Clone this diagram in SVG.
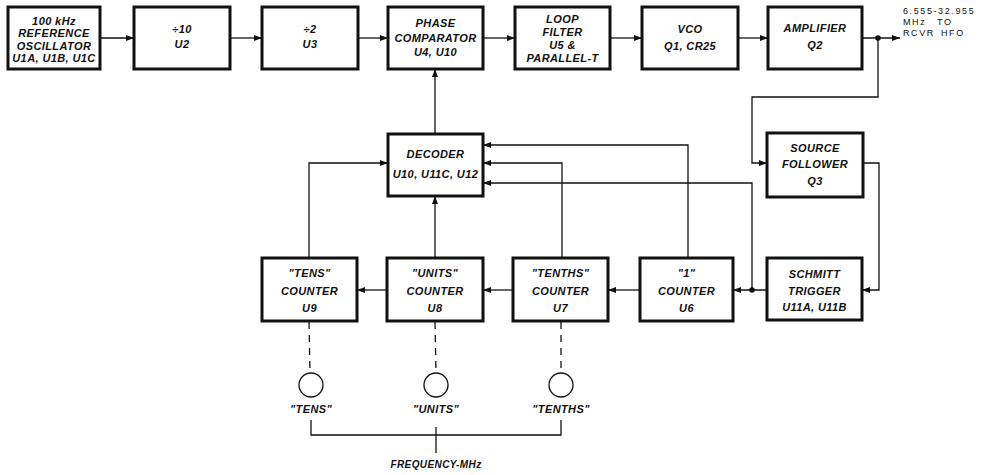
<svg xmlns="http://www.w3.org/2000/svg" width="990" height="475" viewBox="0 0 990 475">
<defs>
<style>
.box{fill:#fff;stroke:#111;stroke-width:3}
.t{font-family:"Liberation Sans",Arial,sans-serif;font-style:italic;font-weight:bold;font-size:11px;letter-spacing:0.4px;fill:#111;text-anchor:middle}
.o{font-family:"Liberation Sans",Arial,sans-serif;font-size:9px;letter-spacing:1.6px;fill:#111}
.ln{fill:none;stroke:#111;stroke-width:1.3}
.ds{fill:none;stroke:#111;stroke-width:1.3;stroke-dasharray:7,6}
.ar{marker-end:url(#ah)}
.dot{fill:#111}
.knob{fill:#fff;stroke:#111;stroke-width:1.3}
</style>
<marker id="ah" markerUnits="userSpaceOnUse" markerWidth="8" markerHeight="6" refX="8" refY="3" orient="auto">
<path d="M0,0 L8,3 L0,6 z" fill="#111"/>
</marker>
</defs>
<rect width="990" height="475" fill="#fff"/>

<g id="connectors">
<line class="ln ar" x1="100" y1="38" x2="134" y2="38"/>
<line class="ln ar" x1="230" y1="38" x2="262" y2="38"/>
<line class="ln ar" x1="358" y1="38" x2="388" y2="38"/>
<line class="ln ar" x1="483" y1="38" x2="515" y2="38"/>
<line class="ln ar" x1="610" y1="38" x2="642" y2="38"/>
<line class="ln ar" x1="738" y1="38" x2="768" y2="38"/>
<line class="ln ar" x1="862" y1="38" x2="900" y2="38"/>
<circle class="dot" cx="878" cy="38" r="2.8"/>
<polyline class="ln ar" points="878,38 878,97 752,97 752,163 767,163"/>
<polyline class="ln ar" points="863,163 879,163 879,290 862,290"/>
<line class="ln ar" x1="767" y1="290" x2="733" y2="290"/>
<circle class="dot" cx="752" cy="290" r="2.8"/>
<polyline class="ln ar" points="752,290 752,183 483,183"/>
<polyline class="ln ar" points="688,258 688,145 483,145"/>
<polyline class="ln ar" points="562,258 562,163 483,163"/>
<polyline class="ln ar" points="309,258 309,163 388,163"/>
<line class="ln ar" x1="435" y1="258" x2="435" y2="196"/>
<line class="ln ar" x1="435" y1="134" x2="435" y2="69"/>
<line class="ln ar" x1="640" y1="290" x2="608" y2="290"/>
<line class="ln ar" x1="513" y1="290" x2="483" y2="290"/>
<line class="ln ar" x1="387" y1="290" x2="357" y2="290"/>
<line class="ds" x1="309" y1="322" x2="310" y2="373"/>
<line class="ds" x1="435" y1="322" x2="436" y2="373"/>
<line class="ds" x1="561" y1="322" x2="561" y2="373"/>
<polyline class="ln" points="311,420 311,435 561,435 561,420"/>
<line class="ln" x1="436" y1="427" x2="436" y2="453"/>
</g>

<g id="ref-osc">
<rect class="box" x="8" y="7" width="92" height="62"/>
<text class="t" x="54" y="25">100 kHz</text>
<text class="t" x="54" y="37">REFERENCE</text>
<text class="t" x="54" y="50">OSCILLATOR</text>
<text class="t" x="54" y="62">U1A, U1B, U1C</text>
</g>
<g id="div10">
<rect class="box" x="134" y="7" width="96" height="62"/>
<text class="t" x="182" y="33">÷10</text>
<text class="t" x="182" y="48">U2</text>
</g>
<g id="div2">
<rect class="box" x="262" y="7" width="96" height="62"/>
<text class="t" x="310" y="33">÷2</text>
<text class="t" x="310" y="48">U3</text>
</g>
<g id="phase-comp">
<rect class="box" x="388" y="7" width="95" height="62"/>
<text class="t" x="435.5" y="27">PHASE</text>
<text class="t" x="435.5" y="42">COMPARATOR</text>
<text class="t" x="435.5" y="56">U4, U10</text>
</g>
<g id="loop-filter">
<rect class="box" x="515" y="7" width="95" height="62"/>
<text class="t" x="562.5" y="23">LOOP</text>
<text class="t" x="562.5" y="36">FILTER</text>
<text class="t" x="562.5" y="49">U5 &amp;</text>
<text class="t" x="562.5" y="62">PARALLEL-T</text>
</g>
<g id="vco">
<rect class="box" x="642" y="7" width="96" height="62"/>
<text class="t" x="690" y="33">VCO</text>
<text class="t" x="690" y="50">Q1, CR25</text>
</g>
<g id="amplifier">
<rect class="box" x="768" y="7" width="94" height="62"/>
<text class="t" x="815" y="32">AMPLIFIER</text>
<text class="t" x="815" y="49">Q2</text>
</g>
<g id="output-label">
<text class="o" x="903" y="14">6.555-32.955</text>
<text class="o" x="903" y="25">MHz<tspan x="937">TO</tspan></text>
<text class="o" x="903" y="36">RCVR<tspan x="941">HFO</tspan></text>
</g>
<g id="decoder">
<rect class="box" x="388" y="134" width="95" height="62"/>
<text class="t" x="435.5" y="158">DECODER</text>
<text class="t" x="435.5" y="178">U10, U11C, U12</text>
</g>
<g id="source-follower">
<rect class="box" x="767" y="133" width="96" height="64"/>
<text class="t" x="815" y="152">SOURCE</text>
<text class="t" x="815" y="168">FOLLOWER</text>
<text class="t" x="815" y="185">Q3</text>
</g>
<g id="schmitt">
<rect class="box" x="767" y="258" width="95" height="62"/>
<text class="t" x="814.5" y="278">SCHMITT</text>
<text class="t" x="814.5" y="295">TRIGGER</text>
<text class="t" x="814.5" y="311">U11A, U11B</text>
</g>
<g id="tens-counter">
<rect class="box" x="262" y="258" width="95" height="63"/>
<text class="t" x="309.5" y="277">"TENS"</text>
<text class="t" x="309.5" y="295">COUNTER</text>
<text class="t" x="309.5" y="312">U9</text>
</g>
<g id="units-counter">
<rect class="box" x="387" y="258" width="96" height="63"/>
<text class="t" x="435" y="277">"UNITS"</text>
<text class="t" x="435" y="295">COUNTER</text>
<text class="t" x="435" y="312">U8</text>
</g>
<g id="tenths-counter">
<rect class="box" x="513" y="258" width="95" height="63"/>
<text class="t" x="560.5" y="277">"TENTHS"</text>
<text class="t" x="560.5" y="295">COUNTER</text>
<text class="t" x="560.5" y="312">U7</text>
</g>
<g id="one-counter">
<rect class="box" x="640" y="258" width="93" height="63"/>
<text class="t" x="686.5" y="277">"1"</text>
<text class="t" x="686.5" y="295">COUNTER</text>
<text class="t" x="686.5" y="312">U6</text>
</g>
<g id="tens-knob">
<circle class="knob" cx="311" cy="385" r="12"/>
<text class="t" x="311" y="413">"TENS"</text>
</g>
<g id="units-knob">
<circle class="knob" cx="436" cy="385" r="12"/>
<text class="t" x="436" y="413">"UNITS"</text>
</g>
<g id="tenths-knob">
<circle class="knob" cx="561" cy="385" r="12"/>
<text class="t" x="561" y="413">"TENTHS"</text>
</g>
<g id="freq-label">
<text class="t" x="436" y="468" style="font-size:10px">FREQUENCY-MHz</text>
</g>
</svg>
